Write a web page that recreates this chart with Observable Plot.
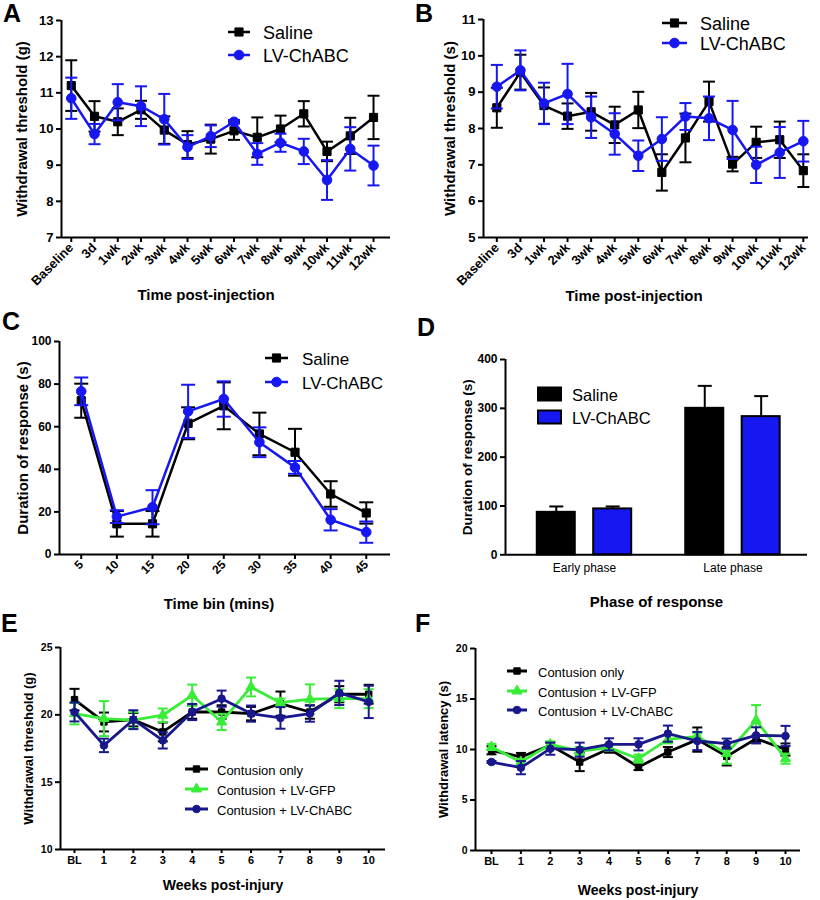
<!DOCTYPE html>
<html><head><meta charset="utf-8">
<script src="https://cdn.jsdelivr.net/npm/d3@7"></script>
<script src="https://cdn.jsdelivr.net/npm/@observablehq/plot@0.6"></script>
<style>
body{margin:0;background:#fff;}
#fig{position:relative;width:820px;height:900px;background:#fff;font-family:"Liberation Sans",Arial,sans-serif;overflow:hidden;color:#000;}
.panel{position:absolute;}
.letter{position:absolute;font-weight:bold;font-size:25px;line-height:1;}
.legtext{position:absolute;white-space:nowrap;line-height:1;transform:translateY(-50%);}
.legsw{position:absolute;overflow:visible;}
#fig svg g[aria-label$="tick"] path, #fig svg g[aria-label$="axis"] line{stroke-width:2px;}
</style></head><body><div id="fig"></div><script>
// ---------- data ----------
const groupsAB = ["Saline", "LV-ChABC"];
const timeAB = ["Baseline","3d","1wk","2wk","3wk","4wk","5wk","6wk","7wk","8wk","9wk","10wk","11wk","12wk"];

const salineA     = [11.2, 10.35, 10.2, 10.53, 9.97, 9.57, 9.72, 9.95, 9.77, 10.0, 10.42, 9.38, 9.81, 10.32];
const salineA_err = [0.7, 0.42, 0.37, 0.25, 0.38, 0.37, 0.4, 0.25, 0.55, 0.37, 0.35, 0.27, 0.5, 0.6];
const chabcA      = [10.85, 9.86, 10.74, 10.63, 10.27, 9.5, 9.8, 10.2, 9.31, 9.62, 9.38, 8.59, 9.45, 8.99];
const chabcA_err  = [0.57, 0.28, 0.5, 0.55, 0.7, 0.33, 0.3, 0.05, 0.3, 0.25, 0.35, 0.55, 0.6, 0.55];

const salineB     = [8.57, 9.55, 8.63, 8.34, 8.46, 8.1, 8.51, 6.79, 7.74, 8.74, 7.02, 7.62, 7.69, 6.84];
const salineB_err = [0.55, 0.48, 0.5, 0.35, 0.52, 0.5, 0.5, 0.5, 0.67, 0.55, 0.2, 0.43, 0.5, 0.45];
const chabcB      = [9.15, 9.6, 8.69, 8.95, 8.31, 7.85, 7.25, 7.71, 8.33, 8.28, 7.96, 7.0, 7.34, 7.65];
const chabcB_err  = [0.6, 0.55, 0.57, 0.83, 0.57, 0.57, 0.42, 0.6, 0.37, 0.6, 0.8, 0.5, 0.7, 0.56];

const binC        = [5, 10, 15, 20, 25, 30, 35, 40, 45];
const salineC     = [72.2, 14.4, 14.4, 61.6, 69.8, 56.6, 48, 28.4, 19.5];
const salineC_err = [8, 6, 6, 7.5, 11, 10, 11, 6, 5];
const chabcC      = [76.6, 17.8, 22.2, 67.2, 73, 52.7, 40.9, 16.3, 10.5];
const chabcC_err  = [6.5, 3, 8, 12.5, 8.3, 7, 3, 5, 5];

const phasesD     = ["Early phase", "Late phase"];
const salineD     = [87, 300];
const salineD_err = [12, 46];
const chabcD      = [94, 283];
const chabcD_err  = [5, 42];

const groupsEF = ["Contusion only", "Contusion + LV-GFP", "Contusion + LV-ChABC"];
const weeksEF  = ["BL","1","2","3","4","5","6","7","8","9","10"];

const contE     = [21.13, 19.47, 19.64, 18.73, 20.21, 20.21, 20.09, 20.83, 20.21, 21.53, 21.53];
const contE_err = [0.8, 0.7, 0.5, 0.7, 0.5, 0.5, 0.5, 0.9, 0.5, 0.6, 0.7];
const gfpE      = [20.09, 19.72, 19.6, 19.97, 21.45, 19.47, 22.07, 20.9, 21.16, 21.2, 21.2];
const gfpE_err  = [0.8, 1.3, 0.6, 0.5, 0.8, 0.6, 0.7, 0.3, 1.1, 0.7, 0.7];
const chabcE    = [20.21, 17.73, 19.64, 18.1, 20.21, 21.2, 20.09, 19.77, 20.09, 21.63, 20.96];
const chabcE_err= [0.7, 0.5, 0.7, 0.6, 0.6, 0.6, 0.6, 0.8, 0.6, 0.9, 1.2];

const contF     = [9.92, 9.26, 10.41, 8.76, 10.08, 8.26, 9.75, 10.98, 9.32, 11.07, 10.0];
const contF_err = [0.4, 0.4, 0.3, 0.9, 0.4, 0.3, 0.5, 1.2, 0.9, 0.3, 0.6];
const gfpF      = [10.25, 8.76, 10.51, 9.85, 10.18, 9.09, 11.0, 11.3, 9.59, 12.9, 9.09];
const gfpF_err  = [0.3, 0.3, 0.3, 0.4, 0.3, 0.4, 0.4, 0.3, 1.0, 1.5, 0.5];
const chabcF    = [8.76, 8.2, 10.08, 9.98, 10.51, 10.51, 11.57, 10.84, 10.58, 11.4, 11.34];
const chabcF_err= [0.1, 0.65, 0.6, 0.7, 0.6, 0.6, 0.8, 0.9, 0.5, 0.8, 1.0];

// ---------- style ----------
const FONT = '"Liberation Sans", Arial, sans-serif';
const BLACK = "#000000", BLUE = "#1717f2", GREEN = "#38ec38", NAVY = "#18188c";
const fig = document.getElementById("fig");

const capSymbol = {draw(ctx, size){ const r = Math.sqrt(size/Math.PI); ctx.moveTo(-r,0); ctx.lineTo(r,0); }};
const rowsOf = (xs, m, e) => xs.map((x,i)=>({x, m:m[i], e:e[i]}));

function seriesMarks(s, o){
  return [
    Plot.ruleX(s.rows, {x:"x", y1:d=>d.m-d.e, y2:d=>d.m+d.e, stroke:s.color, strokeWidth:o.errW}),
    Plot.dot(s.rows, {x:"x", y:d=>d.m+d.e, symbol:capSymbol, r:o.capR, stroke:s.color, strokeWidth:o.errW, fill:"none"}),
    Plot.dot(s.rows, {x:"x", y:d=>d.m-d.e, symbol:capSymbol, r:o.capR, stroke:s.color, strokeWidth:o.errW, fill:"none"}),
    Plot.line(s.rows, {x:"x", y:"m", stroke:s.color, strokeWidth:o.lineW}),
    Plot.dot(s.rows, {x:"x", y:"m", symbol:s.symbol, r:s.r, fill:s.color, stroke:s.color, strokeWidth:1})
  ];
}

function chart(c, marks){
  const svg = Plot.plot({
    width:c.width, height:c.height,
    marginTop:c.mt, marginRight:c.mr, marginBottom:c.mb, marginLeft:c.ml,
    style:{background:"transparent", overflow:"visible", fontFamily:FONT, fontSize:c.tickFont+"px", fontWeight:"bold", color:"#000"},
    x:{type:"linear", domain:c.xDomain, ticks:c.xTicks, tickFormat:c.xFormat, tickRotate:c.xRotate||0,
       tickSize:(c.xTickSize ?? 5), tickPadding:(c.xTickPad ?? 3), label:null},
    y:{type:"linear", domain:c.yDomain, ticks:c.yTicks, tickFormat:d=>String(d), tickSize:5, tickPadding:3, label:null},
    marks:[
      ...marks,
      Plot.ruleY([c.yDomain[0]], {stroke:"#000", strokeWidth:c.axisW}),
      Plot.ruleX([c.xDomain[0]], {stroke:"#000", strokeWidth:c.axisW}),
      Plot.text([c.xTitle], {frameAnchor:"bottom", textAnchor:"middle", lineAnchor:"middle", dx:c.xTitleDx||0, dy:c.xTitleDy, fontSize:c.xTitleSize, fontWeight:"bold", fill:"#000"}),
      Plot.text([c.yTitle], {frameAnchor:"left", textAnchor:"middle", lineAnchor:"middle", rotate:-90, dx:c.yTitleDx, fontSize:c.yTitleSize, fontWeight:"bold", fill:"#000"})
    ]
  });
  if (c.xFont) {
    svg.querySelectorAll('g[aria-label^="x-axis"]').forEach(g=>{
      g.setAttribute("font-size", c.xFont);
      if (c.xWeight) g.setAttribute("font-weight", c.xWeight);
      g.style.fontSize = c.xFont + "px";
      if (c.xWeight) g.style.fontWeight = c.xWeight;
    });
  }
  const div = document.createElement("div");
  div.className = "panel";
  div.style.left = c.left + "px"; div.style.top = c.top + "px";
  div.appendChild(svg);
  fig.appendChild(div);
}

function letter(t, x, capTop){
  const d = document.createElement("div");
  d.className = "letter"; d.textContent = t;
  d.style.left = x + "px"; d.style.top = Math.max(1, capTop - 3.3) + "px";
  fig.appendChild(d);
}

function legend(items, o){
  items.forEach((it, i)=>{
    const cy = o.y + i*o.gap;
    const sw = document.createElementNS("http://www.w3.org/2000/svg","svg");
    sw.setAttribute("class","legsw");
    const h = 20;
    sw.setAttribute("width", o.len); sw.setAttribute("height", h);
    sw.style.left = o.x + "px"; sw.style.top = (cy - h/2) + "px";
    let inner = "";
    if (it.box) {
      inner = `<rect x="1" y="${h/2-o.boxH/2}" width="${o.len-2}" height="${o.boxH}" fill="${it.color}" stroke="#000" stroke-width="2"/>`;
    } else {
      const sym = d3.symbol().type(it.symbol).size(Math.PI*it.r*it.r)();
      inner = `<line x1="0" x2="${o.len}" y1="${h/2}" y2="${h/2}" stroke="${it.color}" stroke-width="${o.lineW}"/>` +
              `<path d="${sym}" transform="translate(${o.len/2},${h/2})" fill="${it.color}" stroke="${it.color}"/>`;
    }
    sw.innerHTML = inner;
    fig.appendChild(sw);
    const t = document.createElement("div");
    t.className = "legtext"; t.textContent = it.label;
    t.style.left = o.tx + "px"; t.style.top = (cy + 1) + "px"; t.style.fontSize = o.font + "px";
    fig.appendChild(t);
  });
}

// ---------- Panel A ----------
const idxAB = timeAB.map((_,i)=>i);
const optAB = {errW:2, capR:6, lineW:2.5};
chart({left:0, top:0, width:410, height:310, mt:20, mr:20, mb:73, ml:61,
  xDomain:[-0.42, 13.73], xTicks:idxAB, xFormat:i=>timeAB[i], xRotate:-45,
  yDomain:[7,13], yTicks:[7,8,9,10,11,12,13], tickFont:13, axisW:2,
  xTitle:"Time post-injection", xTitleDx:-20, xTitleDy:58, xTitleSize:15,
  yTitle:"Withdrawal threshold (g)", yTitleDx:-39, yTitleSize:15},
  [...seriesMarks({rows:rowsOf(idxAB, salineA, salineA_err), color:BLACK, symbol:"square", r:4.6}, optAB),
   ...seriesMarks({rows:rowsOf(idxAB, chabcA, chabcA_err), color:BLUE, symbol:"circle", r:4.8}, optAB)]);

// ---------- Panel B ----------
chart({left:410, top:0, width:410, height:310, mt:19, mr:12, mb:73, ml:73,
  xDomain:[-0.565, 13.22], xTicks:idxAB, xFormat:i=>timeAB[i], xRotate:-45,
  yDomain:[5,11], yTicks:[5,6,7,8,9,10,11], tickFont:13, axisW:2,
  xTitle:"Time post-injection", xTitleDx:-12, xTitleDy:59, xTitleSize:15,
  yTitle:"Withdrawal threshold (s)", yTitleDx:-33, yTitleSize:15},
  [...seriesMarks({rows:rowsOf(idxAB, salineB, salineB_err), color:BLACK, symbol:"square", r:4.6}, optAB),
   ...seriesMarks({rows:rowsOf(idxAB, chabcB, chabcB_err), color:BLUE, symbol:"circle", r:4.8}, optAB)]);

// ---------- Panel C ----------
const optC = {errW:2, capR:7, lineW:2.5};
chart({left:0, top:310, width:410, height:300, mt:31, mr:20, mb:56, ml:59,
  xDomain:[1.95, 48.4], xTicks:binC, xFormat:d=>String(d), xRotate:-45,
  yDomain:[0,100], yTicks:[0,20,40,60,80,100], tickFont:12, axisW:2,
  xTitle:"Time bin (mins)", xTitleDx:-6, xTitleDy:50, xTitleSize:15,
  yTitle:"Duration of response (s)", yTitleDx:-36, yTitleSize:15},
  [...seriesMarks({rows:rowsOf(binC, salineC, salineC_err), color:BLACK, symbol:"square", r:4.6}, optC),
   ...seriesMarks({rows:rowsOf(binC, chabcC, chabcC_err), color:BLUE, symbol:"circle", r:4.8}, optC)]);

// ---------- Panel D ----------
const GROUP_OFF = 0.19, BAR_HALF = 0.128;
const rowsD = [];
phasesD.forEach((p, i)=>{
  rowsD.push({p:i, g:0, v:salineD[i], e:salineD_err[i]});
  rowsD.push({p:i, g:1, v:chabcD[i], e:chabcD_err[i]});
});
const cx = d => d.p + (d.g === 0 ? -GROUP_OFF : GROUP_OFF);
chart({left:410, top:310, width:410, height:300, mt:49, mr:13, mb:55.7, ml:95,
  xDomain:[-0.532, 1.502], xTicks:[0,1], xFormat:i=>phasesD[i], xTickSize:0, xTickPad:9, xFont:12, xWeight:"normal",
  yDomain:[0,400], yTicks:[0,100,200,300,400], tickFont:12, axisW:2,
  xTitle:"Phase of response", xTitleDx:0, xTitleDy:47, xTitleSize:15,
  yTitle:"Duration of response (s)", yTitleDx:-38, yTitleSize:13.5},
  [Plot.ruleX(rowsD, {x:cx, y1:"v", y2:d=>d.v+d.e, stroke:"#000", strokeWidth:2}),
   Plot.dot(rowsD, {x:cx, y:d=>d.v+d.e, symbol:capSymbol, r:7, stroke:"#000", strokeWidth:2, fill:"none"}),
   Plot.rect(rowsD, {x1:d=>cx(d)-BAR_HALF, x2:d=>cx(d)+BAR_HALF, y1:()=>0, y2:"v",
     fill:d=>d.g===0 ? BLACK : BLUE, stroke:"#000", strokeWidth:2})]);

// ---------- Panel E ----------
const idxEF = weeksEF.map((_,i)=>i);
const optEF = {errW:2, capR:5, lineW:2.8};
chart({left:0, top:610, width:410, height:290, mt:37, mr:25, mb:51, ml:60,
  xDomain:[-0.476, 10.57], xTicks:idxEF, xFormat:i=>weeksEF[i], xTickSize:4, xTickPad:3, xFont:11,
  yDomain:[10,25], yTicks:[10,15,20,25], tickFont:10.5, axisW:2,
  xTitle:"Weeks post-injury", xTitleDx:0, xTitleDy:36, xTitleSize:14,
  yTitle:"Withdrawal threshold (g)", yTitleDx:-32, yTitleSize:13},
  [...seriesMarks({rows:rowsOf(idxEF, contE, contE_err), color:BLACK, symbol:"square", r:3.6}, optEF),
   ...seriesMarks({rows:rowsOf(idxEF, gfpE, gfpE_err), color:GREEN, symbol:"triangle", r:3.8}, optEF),
   ...seriesMarks({rows:rowsOf(idxEF, chabcE, chabcE_err), color:NAVY, symbol:"circle", r:3.8}, optEF)]);

// ---------- Panel F ----------
chart({left:410, top:610, width:410, height:290, mt:38, mr:20, mb:50, ml:65,
  xDomain:[-0.544, 10.51], xTicks:idxEF, xFormat:i=>weeksEF[i], xTickSize:4, xTickPad:3, xFont:11,
  yDomain:[0,20], yTicks:[0,5,10,15,20], tickFont:10.5, axisW:2,
  xTitle:"Weeks post-injury", xTitleDx:0, xTitleDy:40, xTitleSize:14,
  yTitle:"Withdrawal latency (s)", yTitleDx:-32, yTitleSize:13},
  [...seriesMarks({rows:rowsOf(idxEF, contF, contF_err), color:BLACK, symbol:"square", r:3.6}, optEF),
   ...seriesMarks({rows:rowsOf(idxEF, gfpF, gfpF_err), color:GREEN, symbol:"triangle", r:3.8}, optEF),
   ...seriesMarks({rows:rowsOf(idxEF, chabcF, chabcF_err), color:NAVY, symbol:"circle", r:3.8}, optEF)]);

// ---------- legends ----------
const legAB = [
  {label:groupsAB[0], color:BLACK, symbol:d3.symbolSquare, r:4.6},
  {label:groupsAB[1], color:BLUE, symbol:d3.symbolCircle, r:4.8}
];
legend(legAB, {x:228, y:32, gap:23, len:22, tx:263, font:18, lineW:2.5});
legend(legAB, {x:662, y:23, gap:20, len:25, tx:700, font:18, lineW:2.5});
legend(legAB, {x:265, y:358, gap:24, len:23, tx:302, font:17, lineW:2.5});
legend(legAB.map(d=>({...d, box:true})), {x:537, y:393.5, gap:23, len:25, boxH:13, tx:572, font:16.5});
const legEF = [
  {label:groupsEF[0], color:BLACK, symbol:d3.symbolSquare, r:3.6},
  {label:groupsEF[1], color:GREEN, symbol:d3.symbolTriangle, r:3.8},
  {label:groupsEF[2], color:NAVY, symbol:d3.symbolCircle, r:3.8}
];
legend(legEF, {x:185, y:769, gap:20, len:23, tx:217, font:13, lineW:3});
legend(legEF, {x:507, y:671, gap:19.5, len:20, tx:538, font:13, lineW:3});

// ---------- panel letters ----------
letter("A", 3, 4); letter("B", 415, 4); letter("C", 2, 312);
letter("D", 417, 318); letter("E", 1, 614); letter("F", 415, 614);
</script></body></html>
